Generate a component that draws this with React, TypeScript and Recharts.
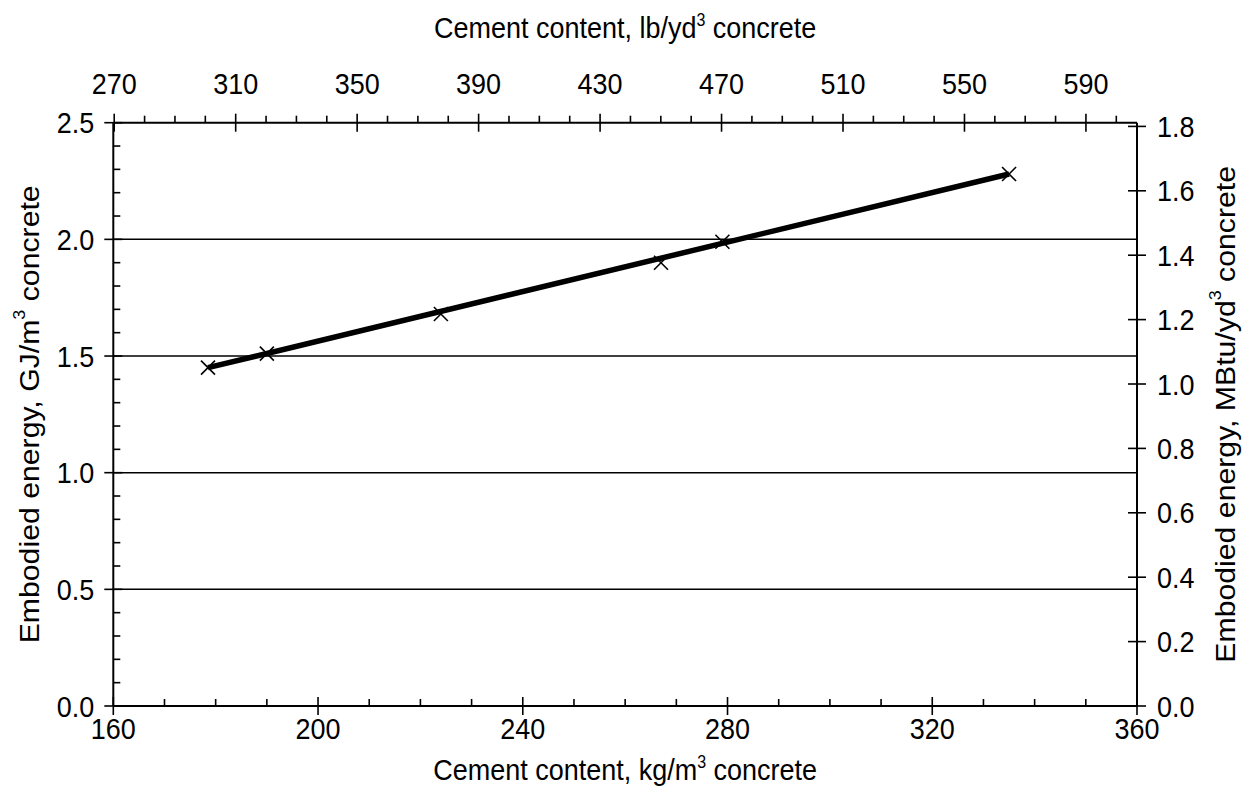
import React from "react";
import { ComposedChart, Line, XAxis, YAxis, ReferenceLine } from "recharts";

const cementKg = [178.5, 190, 224, 267, 279, 335];
const energyGJ = [1.45, 1.51, 1.68, 1.9, 1.99, 2.28];

const trendKg = [178.5, 335];
const trendGJ = [1.45, 2.28];

const bottomTicks = [160, 170, 180, 190, 200, 210, 220, 230, 240, 250, 260, 270, 280, 290, 300, 310, 320, 330, 340, 350, 360];
const topTicks = [270, 280, 290, 300, 310, 320, 330, 340, 350, 360, 370, 380, 390, 400, 410, 420, 430, 440, 450, 460, 470, 480, 490, 500, 510, 520, 530, 540, 550, 560, 570, 580, 590, 600];
const leftTicks = [0, 0.1, 0.2, 0.3, 0.4, 0.5, 0.6, 0.7, 0.8, 0.9, 1.0, 1.1, 1.2, 1.3, 1.4, 1.5, 1.6, 1.7, 1.8, 1.9, 2.0, 2.1, 2.2, 2.3, 2.4, 2.5];
const rightTicks = [0, 0.2, 0.4, 0.6, 0.8, 1.0, 1.2, 1.4, 1.6, 1.8];
const gridValues = [0.5, 1.0, 1.5, 2.0];

const KG_TO_LB = 1.6856;
const GJ_TO_MBTU = 0.7246;

const data = cementKg.map((c, i) => ({ kg: c, lb: c * KG_TO_LB, gj: energyGJ[i], mbtu: energyGJ[i] * GJ_TO_MBTU }));
const trendData = trendKg.map((c, i) => ({ kg: c, gj: trendGJ[i] }));

const FONT = "'Liberation Sans', Arial, sans-serif";
const FS = 27;
const SUP = 16;
const SY = 1.12;
const SW = 1.6;

const HText = ({ x, y, anchor, children }: any) => (
  <text
    transform={`translate(${x},${y}) scale(1,${SY})`}
    x={0}
    y={0}
    textAnchor={anchor}
    fontFamily={FONT}
    fontSize={FS}
    fill="#000"
  >
    {children}
  </text>
);

const VText = ({ x, y, children }: any) => (
  <text
    transform={`translate(${x},${y}) rotate(-90) scale(${SY},1)`}
    x={0}
    y={0}
    textAnchor="middle"
    dominantBaseline="central"
    fontFamily={FONT}
    fontSize={FS}
    fill="#000"
  >
    {children}
  </text>
);

const BottomTick = (p: any) => {
  const { x, y, payload } = p;
  const v = payload.value;
  const major = v % 40 === 0;
  return (
    <g>
      <line x1={x} x2={x} y1={major ? y - 9 : y - 7} y2={major ? y + 9 : y} stroke="#000" strokeWidth={SW} />
      {major && <HText x={x} y={y + 33} anchor="middle">{v}</HText>}
    </g>
  );
};

const TopTick = (p: any) => {
  const { x, y, payload } = p;
  const v = payload.value;
  const major = (v - 270) % 40 === 0;
  return (
    <g>
      <line x1={x} x2={x} y1={major ? y - 9 : y - 7} y2={major ? y + 9 : y} stroke="#000" strokeWidth={SW} />
      {major && <HText x={x} y={y - 29} anchor="middle">{v}</HText>}
    </g>
  );
};

const LeftTick = (p: any) => {
  const { x, y, payload } = p;
  const v = payload.value;
  const major = Math.abs(v * 2 - Math.round(v * 2)) < 1e-6;
  return (
    <g>
      <line x1={major ? x - 9 : x} x2={major ? x + 9 : x + 7} y1={y} y2={y} stroke="#000" strokeWidth={SW} />
      {major && <HText x={x - 19} y={y + 10.5} anchor="end">{v.toFixed(1)}</HText>}
    </g>
  );
};

const RightTick = (p: any) => {
  const { x, y, payload } = p;
  const v = payload.value;
  return (
    <g>
      <line x1={x - 9} x2={x + 9} y1={y} y2={y} stroke="#000" strokeWidth={SW} />
      <HText x={x + 20} y={y + 10.5} anchor="start">{v.toFixed(1)}</HText>
    </g>
  );
};

const XDot = (p: any) => {
  const { cx, cy } = p;
  if (cx == null || cy == null) return null;
  const s = 7;
  return (
    <g>
      <line x1={cx - s} y1={cy - s} x2={cx + s} y2={cy + s} stroke="#000" strokeWidth={1.6} />
      <line x1={cx - s} y1={cy + s} x2={cx + s} y2={cy - s} stroke="#000" strokeWidth={1.6} />
    </g>
  );
};

const BottomTitle = (p: any) => {
  const vb = p.viewBox || {};
  return (
    <HText x={vb.x + vb.width / 2} y={vb.y + 74} anchor="middle">
      Cement content, kg/m<tspan dy={-11} fontSize={SUP}>3</tspan><tspan dy={11}> concrete</tspan>
    </HText>
  );
};

const TopTitle = (p: any) => {
  const vb = p.viewBox || {};
  return (
    <HText x={vb.x + vb.width / 2} y={30} anchor="middle">
      Cement content, lb/yd<tspan dy={-11} fontSize={SUP}>3</tspan><tspan dy={11}> concrete</tspan>
    </HText>
  );
};

const LeftTitle = (p: any) => {
  const vb = p.viewBox || {};
  return (
    <VText x={22} y={vb.y + vb.height / 2}>
      Embodied energy, GJ/m<tspan dy={-11} fontSize={SUP}>3</tspan><tspan dy={11}> concrete</tspan>
    </VText>
  );
};

const RightTitle = (p: any) => {
  const vb = p.viewBox || {};
  return (
    <VText x={1218} y={vb.y + vb.height / 2}>
      Embodied energy, MBtu/yd<tspan dy={-11} fontSize={SUP}>3</tspan><tspan dy={11}> concrete</tspan>
    </VText>
  );
};

export default function App() {
  return (
    <div style={{ width: 1242, height: 803, background: "#fff" }}>
      <ComposedChart width={1242} height={803} data={data} margin={{ top: 54.7, right: 53, bottom: 45, left: 45.3 }}>
        <XAxis
          xAxisId="bottom"
          dataKey="kg"
          type="number"
          orientation="bottom"
          domain={[160, 360]}
          ticks={bottomTicks}
          interval={0}
          tickSize={0}
          tickMargin={0}
          height={60}
          allowDataOverflow
          axisLine={{ stroke: "#000", strokeWidth: 2 }}
          tickLine={false}
          tick={<BottomTick />}
          label={<BottomTitle />}
        />
        <XAxis
          xAxisId="top"
          dataKey="lb"
          type="number"
          orientation="top"
          domain={[160 * KG_TO_LB, 360 * KG_TO_LB]}
          ticks={topTicks}
          interval={0}
          tickSize={0}
          tickMargin={0}
          height={60}
          allowDataOverflow
          axisLine={{ stroke: "#000", strokeWidth: 2 }}
          tickLine={false}
          tick={<TopTick />}
          label={<TopTitle />}
        />
        <YAxis
          yAxisId="left"
          type="number"
          orientation="left"
          domain={[0, 2.5]}
          ticks={leftTicks}
          interval={0}
          tickSize={0}
          tickMargin={0}
          width={60}
          allowDataOverflow
          axisLine={{ stroke: "#000", strokeWidth: 2 }}
          tickLine={false}
          tick={<LeftTick />}
          label={<LeftTitle />}
        />
        <YAxis
          yAxisId="right"
          type="number"
          orientation="right"
          domain={[0, 2.5 * GJ_TO_MBTU]}
          ticks={rightTicks}
          interval={0}
          tickSize={0}
          tickMargin={0}
          width={60}
          allowDataOverflow
          axisLine={{ stroke: "#000", strokeWidth: 2 }}
          tickLine={false}
          tick={<RightTick />}
          label={<RightTitle />}
        />
        {gridValues.map((g) => (
          <ReferenceLine key={g} y={g} xAxisId="bottom" yAxisId="left" stroke="#000" strokeWidth={1.5} />
        ))}
        <Line
          xAxisId="top"
          yAxisId="right"
          dataKey="mbtu"
          type="linear"
          stroke="none"
          dot={false}
          activeDot={false}
          legendType="none"
          isAnimationActive={false}
        />
        <Line
          data={trendData}
          xAxisId="bottom"
          yAxisId="left"
          dataKey="gj"
          type="linear"
          stroke="#000"
          strokeWidth={5.5}
          dot={false}
          activeDot={false}
          isAnimationActive={false}
        />
        <Line
          xAxisId="bottom"
          yAxisId="left"
          dataKey="gj"
          type="linear"
          stroke="none"
          dot={<XDot />}
          activeDot={false}
          isAnimationActive={false}
        />
      </ComposedChart>
    </div>
  );
}
